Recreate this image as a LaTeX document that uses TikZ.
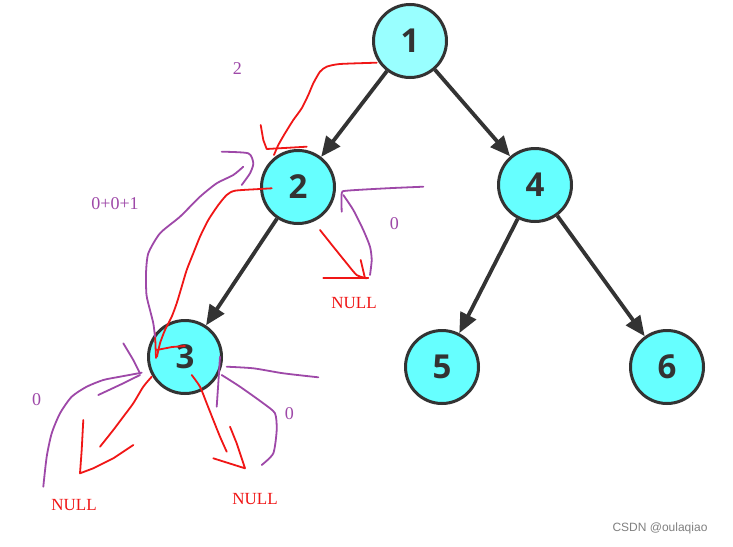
\documentclass[tikz,border=0pt]{standalone}
\usepackage{fontspec}
\setmainfont{Liberation Serif}
\newfontfamily\digitfont{Open Sans}
\newfontfamily\wmfont{Liberation Sans}
\usetikzlibrary{arrows.meta}
\definecolor{nodefill}{RGB}{102,255,255}
\definecolor{rootfill}{RGB}{153,255,255}
\definecolor{edgegray}{RGB}{51,51,51}
\definecolor{pen}{RGB}{158,72,168}
\definecolor{redpen}{RGB}{240,22,22}
\tikzset{
  treenode/.style={circle, draw=edgegray, line width=3pt, fill=nodefill, minimum size=73pt, inner sep=0pt,
    font=\digitfont\bfseries\fontsize{33}{33}\selectfont, text=edgegray},
  treeedge/.style={draw=edgegray, line width=3.8pt, -{Triangle[length=20pt,width=17pt]}},
  redstroke/.style={draw=redpen, line width=1.8pt, line cap=round, line join=round},
  purplestroke/.style={draw=pen, line width=1.8pt, line cap=round, line join=round},
  purplelabel/.style={text=pen, font=\fontsize{18}{18}\selectfont},
  nulllabel/.style={text=redpen, font=\fontsize{17}{17}\selectfont},
}
\begin{document}
\begin{tikzpicture}[x=1pt,y=-1pt]
\useasboundingbox (0,0) rectangle (733,546);
\fill[white] (0,0) rectangle (733,546);

\node[treenode, fill=rootfill] (n1) at (410,41) {1};
\node[treenode] (n2) at (298,187) {2};
\node[treenode] (n4) at (535,185) {4};
\node[treenode] (n3) at (185,357) {3};
\node[treenode] (n5) at (442,367) {5};
\node[treenode] (n6) at (667,367) {6};

\draw[treeedge] (n1) -- (n2);
\draw[treeedge] (n1) -- (n4);
\draw[treeedge] (n2) -- (n3);
\draw[treeedge] (n4) -- (n5);
\draw[treeedge] (n4) -- (n6);

% red strokes
\draw[redstroke] plot[smooth,tension=0.4] coordinates {(376.7,62.7) (340,64) (326.7,66.7) (320,71.7) (313.3,83.3) (308.3,95) (301.7,108.3) (293.3,120) (285,133.3) (278.3,145) (274,155)};
\draw[redstroke] (260.7,125) -- (263.3,140) -- (266.7,149) -- (306.7,146.7);
\draw[redstroke] plot[smooth,tension=0.4] coordinates {(271.7,188.3) (260,189) (235,190.7) (226.7,195) (218.3,205) (208.3,220) (200,236.7) (193.3,253.3) (186.7,270) (181.7,286.7) (176.7,303.3) (171.7,316.7) (165,330) (160,343.3) (157,356.7)};
\draw[redstroke] (155,333) -- (156,358);
\draw[redstroke] (156.7,350) -- (172,347) -- (185,346);
\draw[redstroke] plot[smooth,tension=0.4] coordinates {(151.7,376.7) (143.3,386.7) (133.3,403.3) (123.3,416.7) (113.3,430) (100,446.7)};
\draw[redstroke] (83.3,420) -- (81.7,450) -- (80,473.3) -- (93.3,468.3) -- (113.3,458.3) -- (133.3,445);
\draw[redstroke] plot[smooth,tension=0.4] coordinates {(191.7,375) (200,386.7) (206.7,403.3) (213.3,420) (220,436.7) (226.7,451.7)};
\draw[redstroke] (230,426.7) -- (236.7,443.3) -- (245,468.3) -- (213.3,458.3);
\draw[redstroke] plot[smooth,tension=0.4] coordinates {(320,230) (333.3,246.7) (346.7,263.3) (356.7,275) (366.7,278.3)};
\draw[redstroke] (323.3,278.3) -- (368.3,278.3);
\draw[redstroke] (360.7,260) -- (365,278.3);

% purple strokes
\draw[purplestroke] plot[smooth,tension=0.4] coordinates {(221.7,151.7) (248.3,153.3) (253.3,163.3) (250,173.3) (241.7,185)};
\draw[purplestroke] plot[smooth,tension=0.4] coordinates {(243.3,166.7) (233.3,175) (216.7,183.3) (200,196.7) (180,216.7) (160,233.3) (148.3,253.3) (146,273.3) (146.5,295) (150,310) (153.3,323.3) (155,336.7)};
\draw[purplestroke] plot[smooth,tension=0.4] coordinates {(423.3,186.7) (386.7,188.3) (346.7,190.7) (341.7,193.3) (341.7,211.7)};
\draw[purplestroke] plot[smooth,tension=0.4] coordinates {(343.3,195) (353.3,210) (363.3,230) (370,246.7) (371.7,260) (370,275)};
\draw[purplestroke] (123.3,343.3) -- (133.3,360) -- (140,373.3);
\draw[purplestroke] plot[smooth,tension=0.4] coordinates {(141.7,372.7) (120,376.7) (103.3,380) (86.7,386.7) (71.7,396.7) (60,413.3) (51.7,433.3) (46.7,456.7) (43.3,486.7)};
\draw[purplestroke] (140,375) -- (123.3,383.3) -- (98.3,395);
\draw[purplestroke] (220,356.7) -- (218.3,383.3) -- (216.7,406.7);
\draw[purplestroke] plot[smooth,tension=0.4] coordinates {(226.7,366.7) (253.3,368.3) (283.3,373.3) (318.3,377.3)};
\draw[purplestroke] plot[smooth,tension=0.4] coordinates {(221.7,375) (240,386.7) (263.3,403.3) (275,413.3) (276.7,430) (273.3,453.3) (261.7,465)};

% labels
\node[purplelabel] (l2) at (237.3,69) {2};
\node[purplelabel] (lsum) at (115,204) {0+0+1};
\node[purplelabel] (lr2) at (394.3,224) {0};
\node[purplelabel] (ll3) at (36.7,400) {0};
\node[purplelabel] (lr3) at (289.3,414) {0};
\node[nulllabel] (null1) at (354,303) {NULL};
\node[nulllabel] (null2) at (74,505) {NULL};
\node[nulllabel] (null3) at (255,499) {NULL};

\node[text=gray, font=\wmfont\fontsize{12}{12}\selectfont] (wm) at (660,528) {CSDN @oulaqiao};
\end{tikzpicture}
\end{document}
